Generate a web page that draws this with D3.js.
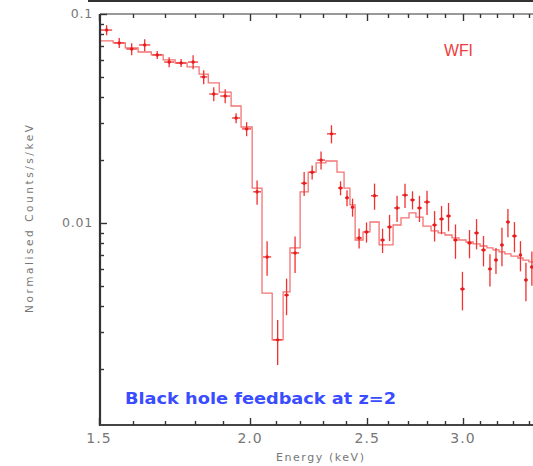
<!DOCTYPE html>
<html><head><meta charset="utf-8">
<script src="https://cdn.jsdelivr.net/npm/d3@7"></script>
<style>html,body{margin:0;padding:0;background:#fff;overflow:hidden}</style>
</head><body>
<script>
// ---- data ----
const binEdges = [1.503,1.541,1.577,1.616,1.657,1.695,1.734,1.774,1.815,1.847,1.886,1.929,1.966,2.008,2.046,2.086,2.130,2.158,2.200,2.234,2.268,2.311,2.360,2.392,2.419,2.443,2.480,2.513,2.557,2.591,2.626,2.666,2.707,2.743,2.780,2.823,2.861,2.899,2.938,2.977,3.017,3.058,3.099,3.140,3.176,3.213,3.249,3.287,3.331,3.363,3.401,3.440];
const dataFlux = [0.0838,0.0727,0.0680,0.0711,0.0637,0.0589,0.0583,0.0589,0.0500,0.0414,0.0405,0.0318,0.0282,0.0141,0.00688,0.00276,0.00452,0.00719,0.0155,0.0175,0.0200,0.0267,0.0147,0.0132,0.0119,0.00848,0.00906,0.0135,0.00829,0.00957,0.0118,0.0136,0.0129,0.0118,0.0126,0.00978,0.01045,0.0108,0.00829,0.00483,0.00802,0.00896,0.00743,0.00603,0.00665,0.00785,0.01011,0.00867,0.00703,0.00534,0.00616];
const dataErr = [0.00462,0.00401,0.00450,0.00470,0.00281,0.00325,0.00257,0.00454,0.00386,0.00319,0.00312,0.00175,0.00218,0.00186,0.00129,0.00067,0.00090,0.00143,0.00205,0.00135,0.00198,0.00265,0.00113,0.00116,0.00118,0.00093,0.00100,0.00193,0.00110,0.00137,0.00169,0.00180,0.00128,0.00169,0.00167,0.00162,0.00161,0.00167,0.00155,0.00101,0.00124,0.00148,0.00123,0.00106,0.00095,0.00164,0.00156,0.00143,0.00116,0.00112,0.00115];
const modelFlux = [0.0743,0.0727,0.0688,0.0658,0.0637,0.0603,0.0583,0.0558,0.0516,0.0468,0.0423,0.0363,0.0288,0.0147,0.00462,0.00276,0.00468,0.00760,0.0141,0.0175,0.0194,0.0198,0.0175,0.0147,0.0122,0.00829,0.00906,0.01011,0.00785,0.00785,0.00978,0.01057,0.01117,0.01068,0.00967,0.00916,0.00896,0.00876,0.00848,0.00829,0.00811,0.00794,0.00776,0.00760,0.00743,0.00727,0.00711,0.00695,0.00680,0.00665,0.00651];
const xMajorTicks = [1.5, 2.0, 2.5, 3.0];
const xMajorLabels = ["1.5", "2.0", "2.5", "3.0"];
const xMinorTicks = [1.6,1.7,1.8,1.9,2.1,2.2,2.3,2.4,2.6,2.7,2.8,2.9,3.1,3.2,3.3,3.4];
const yMajorTicks = [0.1, 0.01];
const yMajorLabels = ["0.1", "0.01"];
const yMinorTicks = [0.09,0.08,0.07,0.06,0.05,0.04,0.03,0.02,0.009,0.008,0.007,0.006,0.005,0.004,0.003,0.002];
const xTitle = "Energy (keV)";
const yTitle = "Normalised Counts/s/keV";
const instrumentLabel = "WFI";
const caption = "Black hole feedback at z=2";

// ---- layout ----
const W = 533, H = 466;
const L = 100, T = 14, B = 425, R = 533;
const x = d3.scaleLog().domain([1.5, 3.0]).range([99, 463]);
const y = d3.scaleLog().domain([0.1, 0.01]).range([T, 223]);

const svg = d3.select("body").append("svg").attr("width", W).attr("height", H)
  .style("font-family", "'DejaVu Sans', sans-serif");

const defs = svg.append("defs");
defs.append("clipPath").attr("id", "plotclip")
  .append("rect").attr("x", L).attr("y", T).attr("width", R - L).attr("height", B - T);
const blur = defs.append("filter").attr("id", "soft")
  .attr("x", "-5%").attr("y", "-5%").attr("width", "110%").attr("height", "110%");
blur.append("feGaussianBlur").attr("stdDeviation", 0.6);

// top dark strip (cut-off frame above)
svg.append("rect").attr("x", 88).attr("y", 0).attr("width", W - 88).attr("height", 2).attr("fill", "#333");

const plot = svg.append("g").attr("clip-path", "url(#plotclip)");
const marks = plot.append("g").attr("filter", "url(#soft)");

// model step line
const stepPts = modelFlux.map((m, i) => [binEdges[i], m]);
stepPts.push([binEdges[binEdges.length - 1], modelFlux[modelFlux.length - 1]]);
marks.append("path")
  .attr("d", d3.line().x(d => x(d[0])).y(d => y(d[1])).curve(d3.curveStepAfter)(stepPts))
  .attr("fill", "none").attr("stroke", "#f05050").attr("stroke-width", 1.3).attr("stroke-opacity", 0.8);

// data crosses
const pts = dataFlux.map((f, i) => ({
  lo: binEdges[i], hi: binEdges[i + 1], c: Math.sqrt(binEdges[i] * binEdges[i + 1]), f, e: dataErr[i]
}));
const g = marks.append("g").attr("stroke", "#f03030").attr("stroke-width", 1.3);
g.selectAll("line.h").data(pts).join("line").attr("class", "h")
  .attr("x1", d => x(d.lo) + 1).attr("x2", d => x(d.hi) - 1)
  .attr("y1", d => y(d.f)).attr("y2", d => y(d.f));
g.selectAll("line.v").data(pts).join("line").attr("class", "v")
  .attr("x1", d => x(d.c)).attr("x2", d => x(d.c))
  .attr("y1", d => y(d.f + d.e)).attr("y2", d => y(Math.max(d.f - d.e, 1e-4)));
marks.append("g").selectAll("circle").data(pts).join("circle")
  .attr("cx", d => x(d.c)).attr("cy", d => y(d.f)).attr("r", 1.7).attr("fill", "#e81c1c");

// axes frame
const ax = svg.append("g");
ax.append("line").attr("x1", L).attr("x2", L).attr("y1", T).attr("y2", B + 1).attr("stroke-width", 2.2).attr("stroke", "#333");
ax.append("line").attr("x1", L).attr("x2", R).attr("y1", B).attr("y2", B).attr("stroke-width", 2.2).attr("stroke", "#444");
ax.append("line").attr("x1", L).attr("x2", R).attr("y1", T).attr("y2", T).attr("stroke-width", 1.5).attr("stroke", "#777");

// inward tick marks drawn from the scales
const tk = svg.append("g").attr("stroke", "#333").attr("stroke-width", 1.4);
const xTicksAll = xMinorTicks.map(v => ({v, len: 4})).concat(xMajorTicks.map(v => ({v, len: 7})));
tk.selectAll("line.xb").data(xTicksAll).join("line").attr("class", "xb")
  .attr("x1", d => Math.round(x(d.v)) + 0.5).attr("x2", d => Math.round(x(d.v)) + 0.5)
  .attr("y1", B).attr("y2", d => B - d.len);
tk.selectAll("line.xt").data(xTicksAll).join("line").attr("class", "xt")
  .attr("x1", d => Math.round(x(d.v)) + 0.5).attr("x2", d => Math.round(x(d.v)) + 0.5)
  .attr("y1", T).attr("y2", d => T + d.len);
const yTicksAll = yMinorTicks.map(v => ({v, len: 4})).concat(yMajorTicks.map(v => ({v, len: 7})));
tk.selectAll("line.yl").data(yTicksAll).join("line").attr("class", "yl")
  .attr("y1", d => Math.round(y(d.v)) + 0.5).attr("y2", d => Math.round(y(d.v)) + 0.5)
  .attr("x1", L).attr("x2", d => L + d.len);

// tick labels
svg.append("g").selectAll("text").data(xMajorTicks).join("text")
  .attr("x", d => x(d)).attr("y", 443).attr("text-anchor", "middle")
  .attr("font-size", 14).attr("fill", "#777").attr("letter-spacing", 1)
  .text((d, i) => xMajorLabels[i]);
svg.append("g").selectAll("text").data(yMajorTicks).join("text")
  .attr("x", 93).attr("y", d => y(d)).attr("dy", "0.35em").attr("text-anchor", "end")
  .attr("font-size", 12.5).attr("fill", "#777").attr("letter-spacing", 0.8)
  .text((d, i) => yMajorLabels[i]);

// titles
svg.append("text").attr("x", 320).attr("y", 461).attr("text-anchor", "middle")
  .attr("font-size", 11).attr("fill", "#777").attr("textLength", 88).attr("lengthAdjust", "spacing")
  .text(xTitle);
svg.append("text").attr("transform", "translate(33,219) rotate(-90)").attr("text-anchor", "middle")
  .attr("font-size", 10.5).attr("fill", "#777").attr("textLength", 188).attr("lengthAdjust", "spacing")
  .text(yTitle);

svg.append("text").attr("x", 444).attr("y", 56).attr("font-size", 17)
  .attr("font-family", "'Liberation Sans Narrow', 'Liberation Sans', sans-serif")
  .attr("fill", "#f03c3c").attr("textLength", 29).attr("lengthAdjust", "spacingAndGlyphs")
  .text(instrumentLabel);

svg.append("text").attr("x", 125).attr("y", 404).attr("font-size", 15).attr("font-weight", "bold")
  .attr("fill", "#3a4cff").attr("textLength", 271).attr("lengthAdjust", "spacingAndGlyphs")
  .text(caption);
</script>
</body></html>
